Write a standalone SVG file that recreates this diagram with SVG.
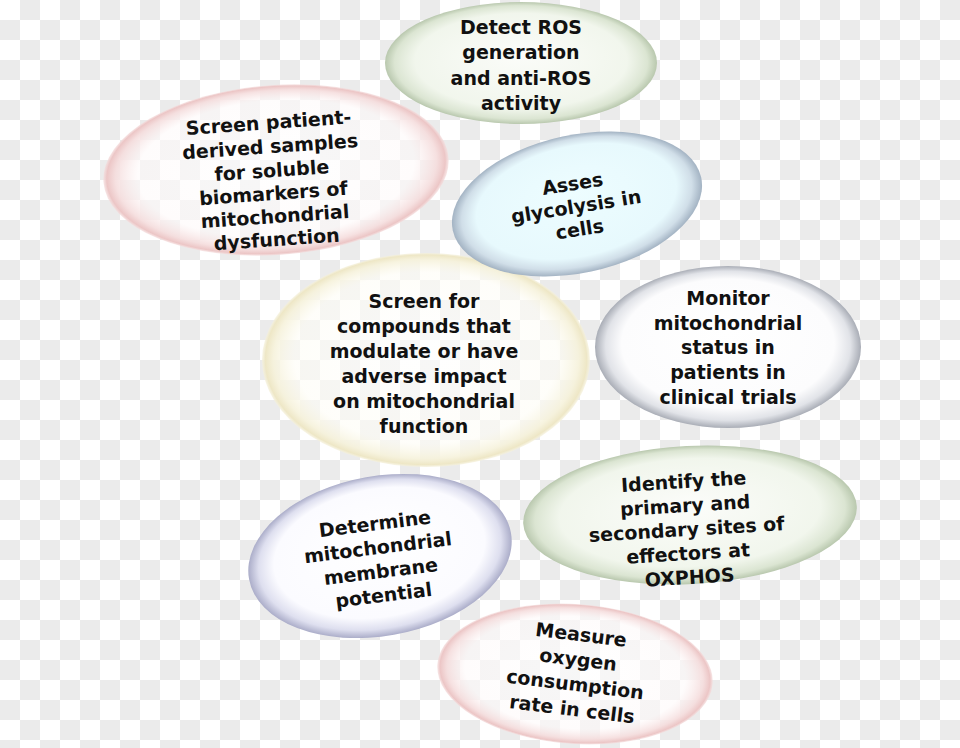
<svg xmlns="http://www.w3.org/2000/svg" width="960" height="748" viewBox="0 0 960 748">
<defs>
<pattern id="chk" width="40" height="40" patternUnits="userSpaceOnUse">
<rect width="40" height="40" fill="#ffffff"/>
<rect x="20" y="0" width="20" height="20" fill="#ebebeb"/>
<rect x="0" y="20" width="20" height="20" fill="#ebebeb"/>
</pattern>
<radialGradient id="gGreen" cx="0.5" cy="0.5" r="0.5" fx="0.5" fy="0.42">
<stop offset="0" stop-color="#fcfdfa" stop-opacity="0.92"/>
<stop offset="0.78" stop-color="#f1f6ec" stop-opacity="0.95"/>
<stop offset="0.93" stop-color="#dbe5d2"/>
<stop offset="1" stop-color="#b9c8ae"/>
</radialGradient>
<radialGradient id="gPink" cx="0.5" cy="0.5" r="0.5" fx="0.5" fy="0.45">
<stop offset="0" stop-color="#ffffff" stop-opacity="0.6"/>
<stop offset="0.8" stop-color="#fefafa" stop-opacity="0.6"/>
<stop offset="0.93" stop-color="#f5dddd" stop-opacity="0.9"/>
<stop offset="0.98" stop-color="#ecc6c6"/>
<stop offset="1" stop-color="#f4dcdc" stop-opacity="0.7"/>
</radialGradient>
<radialGradient id="gYellow" cx="0.5" cy="0.5" r="0.5" fx="0.5" fy="0.45">
<stop offset="0" stop-color="#ffffff" stop-opacity="0.6"/>
<stop offset="0.8" stop-color="#fefdf6" stop-opacity="0.6"/>
<stop offset="0.93" stop-color="#f6f2db" stop-opacity="0.9"/>
<stop offset="0.98" stop-color="#eee7c6"/>
<stop offset="1" stop-color="#f5f1dc" stop-opacity="0.7"/>
</radialGradient>
<radialGradient id="gBlue" cx="0.5" cy="0.5" r="0.5" fx="0.5" fy="0.4">
<stop offset="0" stop-color="#edfdff"/>
<stop offset="0.8" stop-color="#e7f9fd"/>
<stop offset="0.92" stop-color="#d0dee8"/>
<stop offset="1" stop-color="#a3b3c3"/>
</radialGradient>
<radialGradient id="gGray" cx="0.5" cy="0.5" r="0.5" fx="0.5" fy="0.4">
<stop offset="0" stop-color="#ffffff"/>
<stop offset="0.8" stop-color="#fcfcfd"/>
<stop offset="0.92" stop-color="#e1e3e8"/>
<stop offset="1" stop-color="#a9adb6"/>
</radialGradient>
<radialGradient id="gLav" cx="0.5" cy="0.5" r="0.5" fx="0.5" fy="0.4">
<stop offset="0" stop-color="#ffffff"/>
<stop offset="0.8" stop-color="#fbfbff"/>
<stop offset="0.92" stop-color="#dedfef"/>
<stop offset="1" stop-color="#abadc9"/>
</radialGradient>
<style>
.t{font-family:"DejaVu Sans","Liberation Sans",sans-serif;font-weight:bold;font-size:19px;fill:#111111;text-anchor:middle}
</style>
</defs>
<rect width="960" height="748" fill="url(#chk)"/>

<g id="node-compounds">
<ellipse cx="426" cy="360" rx="164" ry="107" fill="url(#gYellow)"/>
<text class="t"><tspan x="424" y="308">Screen for</tspan><tspan x="424" y="333">compounds that</tspan><tspan x="424" y="358">modulate or have</tspan><tspan x="424" y="383">adverse impact</tspan><tspan x="424" y="408">on mitochondrial</tspan><tspan x="424" y="433">function</tspan></text>
</g>

<g id="node-biomarkers">
<ellipse cx="276" cy="170" rx="173" ry="85" transform="rotate(-4 276 170)" fill="url(#gPink)"/>
<text class="t" transform="rotate(-4 273 187)"><tspan x="273" y="129">Screen patient-</tspan><tspan x="273" y="153">derived samples</tspan><tspan x="273" y="177">for soluble</tspan><tspan x="273" y="200">biomarkers of</tspan><tspan x="273" y="223">mitochondrial</tspan><tspan x="273" y="246">dysfunction</tspan></text>
</g>

<g id="node-ros">
<ellipse cx="521" cy="63" rx="136" ry="61" fill="url(#gGreen)"/>
<text class="t"><tspan x="521" y="34">Detect ROS</tspan><tspan x="521" y="59">generation</tspan><tspan x="521" y="85">and anti-ROS</tspan><tspan x="521" y="110">activity</tspan></text>
</g>

<g id="node-glycolysis">
<ellipse cx="577" cy="204" rx="127" ry="69" transform="rotate(-12 577 204)" fill="url(#gBlue)"/>
<text class="t" transform="rotate(-9 577 212)"><tspan x="577" y="190">Asses</tspan><tspan x="577" y="213">glycolysis in</tspan><tspan x="577" y="236">cells</tspan></text>
</g>

<g id="node-monitor">
<ellipse cx="728" cy="347" rx="133" ry="81" fill="url(#gGray)"/>
<text class="t"><tspan x="728" y="305">Monitor</tspan><tspan x="728" y="330">mitochondrial</tspan><tspan x="728" y="354">status in</tspan><tspan x="728" y="379">patients in</tspan><tspan x="728" y="404">clinical trials</tspan></text>
</g>

<g id="node-oxygen">
<ellipse cx="575" cy="674" rx="138" ry="70" transform="rotate(4 575 674)" fill="url(#gPink)"/>
<text class="t" transform="rotate(7 576 677)"><tspan x="576" y="641">Measure</tspan><tspan x="576" y="666">oxygen</tspan><tspan x="576" y="691">consumption</tspan><tspan x="576" y="716">rate in cells</tspan></text>
</g>

<g id="node-membrane">
<ellipse cx="380" cy="556" rx="133" ry="80" transform="rotate(-10 380 556)" fill="url(#gLav)"/>
<text class="t" transform="rotate(-7 380 565)"><tspan x="380" y="530">Determine</tspan><tspan x="380" y="554">mitochondrial</tspan><tspan x="380" y="578">membrane</tspan><tspan x="380" y="602">potential</tspan></text>
</g>

<g id="node-oxphos">
<ellipse cx="690" cy="515" rx="167" ry="69" transform="rotate(-3 690 515)" fill="url(#gGreen)"/>
<text class="t" transform="rotate(-3.5 687 535)"><tspan x="687" y="488">Identify the</tspan><tspan x="687" y="512">primary and</tspan><tspan x="687" y="536">secondary sites of</tspan><tspan x="687" y="560">effectors at</tspan><tspan x="687" y="584">OXPHOS</tspan></text>
</g>

<g id="connectors"></g>
</svg>
